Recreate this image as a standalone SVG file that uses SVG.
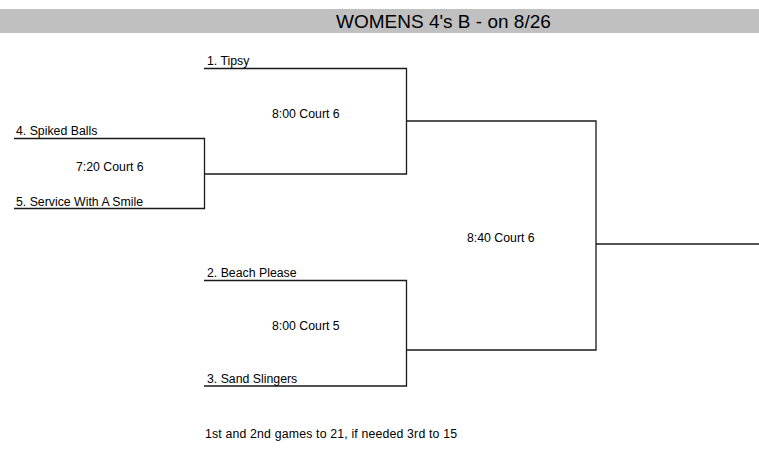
<svg xmlns="http://www.w3.org/2000/svg" width="759" height="451" viewBox="0 0 759 451">
<style>
text { font-family: "Liberation Sans", Arial, sans-serif; fill: #000; }
.t { font-size: 12.3px; }
.title { font-size: 19px; }
.ln { stroke: #1a1a1a; stroke-width: 1.3; fill: none; }
</style>
<rect x="0" y="9" width="759" height="24" fill="#c0c0c0"/>
<text class="title" x="336" y="27.5">WOMENS 4's B - on 8/26</text>
<g id="connectors">
<path class="ln" d="M14 138.5 H204.5 V208.5 H14"/>
<path class="ln" d="M204 68.5 H406.5 V174 H204"/>
<path class="ln" d="M204 280.5 H406.5 V386 H204"/>
<path class="ln" d="M406.5 121 H596 V350 H406.5"/>
<path class="ln" d="M596 244 H759"/>
</g>
<g id="team1"><text class="t" x="207" y="64.5">1. Tipsy</text></g>
<g id="team4"><text class="t" x="16" y="134.5">4. Spiked Balls</text></g>
<g id="team5"><text class="t" x="16" y="205.5">5. Service With A Smile</text></g>
<g id="team2"><text class="t" x="207" y="276.5">2. Beach Please</text></g>
<g id="team3"><text class="t" x="207" y="382.5">3. Sand Slingers</text></g>
<g id="game1"><text class="t" x="76" y="170.5">7:20 Court 6</text></g>
<g id="game2"><text class="t" x="272" y="117.5">8:00 Court 6</text></g>
<g id="game3"><text class="t" x="272" y="329.5">8:00 Court 5</text></g>
<g id="game4"><text class="t" x="467" y="241.5">8:40 Court 6</text></g>
<g id="note"><text class="t" x="205" y="437.5" textLength="252" lengthAdjust="spacing">1st and 2nd games to 21, if needed 3rd to 15</text></g>
</svg>
